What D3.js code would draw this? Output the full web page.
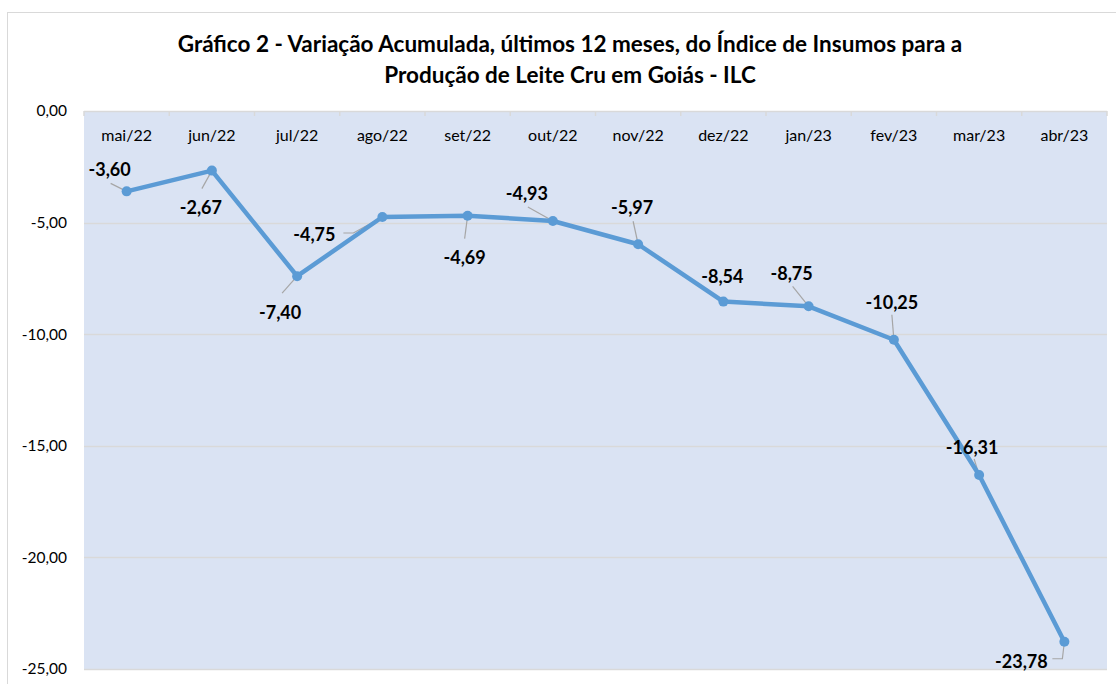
<!DOCTYPE html>
<html><head><meta charset="utf-8">
<script src="https://cdn.jsdelivr.net/npm/d3@7"></script>
<style>
body{margin:0;background:#fff;}
svg{display:block;}
</style></head>
<body>
<svg id="c" width="1116" height="684"></svg>
<script>
const categories = ["mai/22","jun/22","jul/22","ago/22","set/22","out/22","nov/22","dez/22","jan/23","fev/23","mar/23","abr/23"];
const values = [-3.60,-2.67,-7.40,-4.75,-4.69,-4.93,-5.97,-8.54,-8.75,-10.25,-16.31,-23.78];
const yTicks = [0,-5,-10,-15,-20,-25];
const titleLines = ["Gráfico 2 - Variação Acumulada, últimos 12 meses, do Índice de Insumos para a","Produção de Leite Cru em Goiás - ILC"];

// label layout (offsets from point, px) and leader polylines
const labelOffsets = [[-17,-22],[-11,37],[-17,37],[-68,18],[-3,42],[-26,-27],[-6,-37],[-1,-25],[-17,-33],[-2,-37],[-7,-27],[-43,20]];
const leaders = [[[-16,-8]],[[-10,18]],[[-15,17]],[[-39,16],[-29,16]],[[-3,23]],[[-25,-14]],[[-5,-23]],[],[[-16,-20]],[[-2,-25]],[[-5,-16]],[[-12,17],[-2,17]]];

const svg = d3.select("#c");
const font = "Lato, 'Open Sans', sans-serif";
const L = 84, R = 1107, T = 111, B = 669;

svg.append("rect").attr("x",7.5).attr("y",12.5).attr("width",1200).attr("height",800)
  .attr("fill","#fff").attr("stroke","#D9D9D9").attr("stroke-width",1);

const x = d3.scaleBand().domain(categories).range([L,R]);
const y = d3.scaleLinear().domain([-25,0]).range([B,T]);

svg.append("rect").attr("x",L).attr("y",T).attr("width",R-L).attr("height",B-T).attr("fill","#DAE3F3");

// gridlines
svg.append("g").selectAll("line").data(yTicks).join("line")
  .attr("x1",L).attr("x2",R).attr("y1",d=>Math.round(y(d))+0.5).attr("y2",d=>Math.round(y(d))+0.5)
  .attr("stroke","#D9D9D9").attr("stroke-width",1.5);

// y axis labels
const fmt = d => d3.format(".2f")(d).replace("−","-").replace(".",",");
svg.append("g").selectAll("text").data(yTicks).join("text")
  .attr("x",67).attr("y",d=>y(d)).attr("dy","0.35em").attr("text-anchor","end")
  .attr("font-family",font).attr("font-size",15.5).attr("fill","#000").text(d=>fmt(d));

// x axis at top
const xAxis = d3.axisTop(x).tickSize(0).tickPadding(0);
const gx = svg.append("g").attr("transform",`translate(0,${T})`).call(xAxis);
gx.select(".domain").remove();
gx.selectAll("text").attr("y",24).attr("dy","0.35em").attr("font-family",font).attr("font-size",16).attr("fill","#000");
// tick marks at band boundaries
const bounds = categories.map(c=>x(c)).concat([R]);
svg.append("g").selectAll("line").data(bounds).join("line")
  .attr("x1",d=>d).attr("x2",d=>d).attr("y1",T).attr("y2",T+5)
  .attr("stroke","#D9D9D9").attr("stroke-width",1.5);

const px = i => x(categories[i]) + x.bandwidth()/2;

// leaders
const leaderG = svg.append("g");
values.forEach((v,i)=>{
  if(!leaders[i].length) return;
  const cx = px(i), cy = y(v);
  const pts = leaders[i].map(p=>[cx+p[0],cy+p[1]]).concat([[cx,cy]]);
  leaderG.append("path").attr("d",d3.line()(pts)).attr("fill","none").attr("stroke","#A6A6A6").attr("stroke-width",1.2);
});

// line
svg.append("path").datum(values)
  .attr("d",d3.line().x((d,i)=>px(i)).y(d=>y(d)))
  .attr("fill","none").attr("stroke","#5B9BD5").attr("stroke-width",4.5).attr("stroke-linejoin","round");
svg.append("g").selectAll("circle").data(values).join("circle")
  .attr("cx",(d,i)=>px(i)).attr("cy",d=>y(d)).attr("r",5).attr("fill","#5B9BD5");

// labels
svg.append("g").selectAll("text").data(values).join("text")
  .attr("x",(d,i)=>px(i)+labelOffsets[i][0]).attr("y",(d,i)=>y(d)+labelOffsets[i][1])
  .attr("dy","0.35em").attr("text-anchor","middle")
  .attr("font-family",font).attr("font-weight","bold").attr("font-size",18).attr("fill","#000")
  .text(d=>fmt(d));

// title
svg.append("g").selectAll("text").data(titleLines).join("text")
  .attr("x",570).attr("y",(d,i)=>44+i*31).attr("dy","0.35em").attr("text-anchor","middle")
  .attr("font-family",font).attr("font-weight","bold").attr("font-size",22.5).attr("fill","#000")
  .text(d=>d);
</script>
</body></html>
